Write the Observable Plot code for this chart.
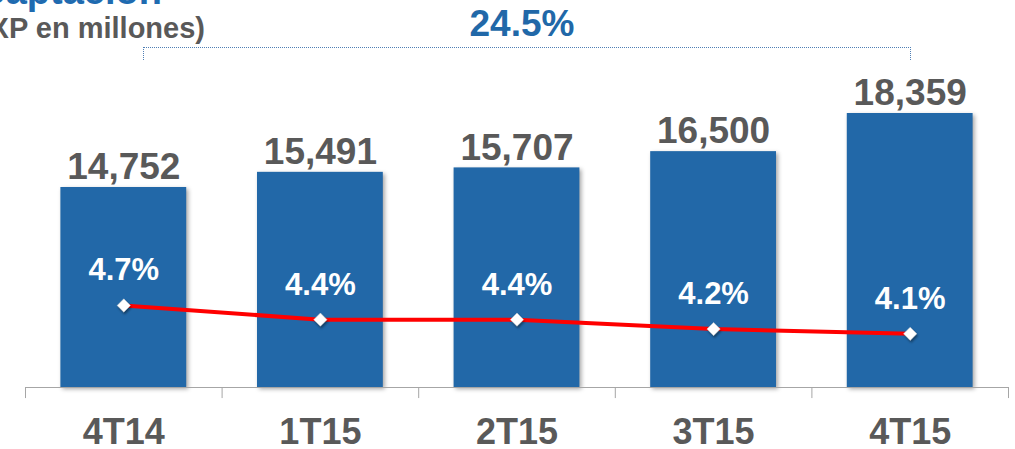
<!DOCTYPE html>
<html>
<head>
<meta charset="utf-8">
<script src="https://cdn.jsdelivr.net/npm/d3@7"></script>
<script src="https://cdn.jsdelivr.net/npm/@observablehq/plot@0.6"></script>
<style>
  html, body { margin: 0; padding: 0; background: #fff; overflow: hidden; }
  body { width: 1015px; height: 449px; position: relative; font-family: "Liberation Sans", Arial, sans-serif; }
  #header { position: relative; width: 1015px; height: 70px; }
  .t { position: absolute; white-space: nowrap; font-weight: bold; line-height: 1; }
  #title { right: 853px; top: -28px; font-size: 38px; color: #1F6BB0; }
  #subtitle { right: 810px; top: 14px; font-size: 29px; color: #595959; }
  #growth { left: 0; width: 1044px; text-align: center; top: 5px; font-size: 37px; color: #2168A8; }
  #bracket { position: absolute; left: 143px; top: 47px; width: 766px; height: 12px;
             border-top: 1px dotted #4F7FB5; border-left: 1px dotted #4F7FB5; border-right: 1px dotted #4F7FB5; }
  #chart svg g[aria-label="rect"] rect { filter: drop-shadow(2px 2px 2px rgba(0,0,0,0.35)); }
  #chart svg g[aria-label="dot"] path { filter: drop-shadow(1px 2px 1px rgba(0,0,0,0.4)); }
</style>
</head>
<body>
<div id="header">
  <div class="t" id="title">Captación</div>
  <div class="t" id="subtitle">(MXP en millones)</div>
  <div class="t" id="growth"></div>
  <div id="bracket"></div>
</div>
<div id="chart"></div>
<script>
const categories = ["4T14", "1T15", "2T15", "3T15", "4T15"];
const captacion = [14752, 15491, 15707, 16500, 18359];
const tasa = [4.7, 4.4, 4.4, 4.2, 4.1];
const crecimiento = "24.5%";

document.getElementById("growth").textContent = crecimiento;

const rows = categories.map((c, i) => ({ i, c, v: captacion[i], p: tasa[i] }));
const boundaries = d3.range(categories.length + 1).map(k => k - 0.5);

const yBase = 5000;
// secondary (percentage) axis mapped onto the bar scale
const pctToY = d3.scaleLinear().domain([4.1, 4.7]).range([7618, 8998]);

const font = "Liberation Sans, Arial, sans-serif";
const gray = "#595959";

const chart = Plot.plot({
  width: 1015,
  height: 379,
  marginLeft: 25,
  marginRight: 7,
  marginTop: 0,
  marginBottom: 62,
  style: { fontFamily: font, background: "transparent", overflow: "visible" },
  x: { domain: [-0.5, categories.length - 0.5], axis: null },
  y: { domain: [yBase, 20456], axis: null },
  marks: [
    Plot.rectY(rows, { x1: d => d.i - 0.32, x2: d => d.i + 0.32, y1: yBase, y2: "v", fill: "#2268A8" }),
    Plot.ruleY([yBase], { x1: -0.5, x2: categories.length - 0.5, stroke: "#A6A6A6", strokeWidth: 1 }),
    Plot.ruleX(boundaries, { x: d => d, y1: yBase, y2: 4460, stroke: "#A6A6A6", strokeWidth: 1 }),
    Plot.text(rows, { x: "i", y: "v", text: d => d3.format(",")(d.v), dy: -20, fontSize: 37, fontWeight: "bold", fill: gray }),
    Plot.line(rows, { x: "i", y: d => pctToY(d.p), stroke: "#FF0000", strokeWidth: 4 }),
    Plot.dot(rows, { x: "i", y: d => pctToY(d.p), symbol: "diamond2", r: 6, fill: "white", stroke: "#cccccc", strokeWidth: 0.5 }),
    Plot.text(rows, { x: "i", y: d => pctToY(d.p), text: d => d.p.toFixed(1) + "%", dy: -35, fontSize: 31, fontWeight: "bold", fill: "white" }),
    Plot.text(rows, { x: "i", y: yBase, text: "c", dy: 45, fontSize: 36, fontWeight: "bold", fill: gray })
  ]
});
document.getElementById("chart").appendChild(chart);
</script>
</body>
</html>
